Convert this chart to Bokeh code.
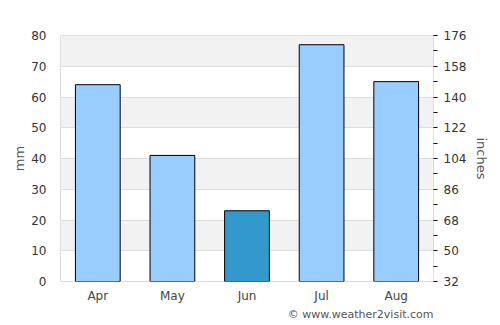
from bokeh.plotting import figure
from bokeh.models import Range1d, LinearAxis, FixedTicker, Title, ColumnDataSource
from bokeh.embed import file_html
from bokeh.resources import INLINE

months = ["Apr", "May", "Jun", "Jul", "Aug"]
rain_mm = [64, 41, 23, 77, 65]
bar_colors = ["#99ccff", "#99ccff", "#3399cc", "#99ccff", "#99ccff"]
right_ticks = [32, 50, 68, 86, 104, 122, 140, 158, 176]
left_ticks = [0, 10, 20, 30, 40, 50, 60, 70, 80]

src = ColumnDataSource(dict(m=months, v=rain_mm, c=bar_colors))

p = figure(width=500, height=325, x_range=months, y_range=Range1d(0, 80),
           output_backend="svg", toolbar_location=None,
           min_border_left=60, min_border_right=67, min_border_top=35, min_border_bottom=5)
p.background_fill_color = "white"
p.border_fill_color = "white"
p.outline_line_color = "#dddddd"

p.vbar(x="m", top="v", width=0.6, fill_color="c", line_color="black", line_width=1, source=src)

p.yaxis.ticker = FixedTicker(ticks=left_ticks)
p.yaxis.axis_label = "mm"
p.yaxis.axis_label_text_font = "DejaVu Sans"
p.yaxis.axis_label_text_font_size = "13px"
p.yaxis.axis_label_text_font_style = "normal"
p.yaxis.axis_label_text_color = "#555555"
p.yaxis.axis_label_standoff = 1
p.yaxis.axis_line_color = None
p.yaxis.major_tick_line_color = None
p.yaxis.minor_tick_line_color = None
p.yaxis.major_label_text_font = "DejaVu Sans"
p.yaxis.major_label_text_font_size = "12px"
p.yaxis.major_label_text_color = "#333333"
p.yaxis.major_label_standoff = 8

p.xaxis.axis_line_color = None
p.xaxis.major_tick_line_color = None
p.xaxis.major_label_text_font = "DejaVu Sans"
p.xaxis.major_label_text_font_size = "12px"
p.xaxis.major_label_text_color = "#444444"
p.xaxis.major_label_standoff = 1

p.xgrid.grid_line_color = None
p.ygrid.grid_line_color = "#dddddd"
p.ygrid.band_fill_color = "#f2f2f2"
p.ygrid.band_fill_alpha = 1.0

p.extra_y_ranges = {"inch": Range1d(32, 176)}
minor = [r + 9 for r in right_ticks[:-1]]
ax = LinearAxis(y_range_name="inch", ticker=FixedTicker(ticks=right_ticks, minor_ticks=minor))
ax.axis_label = "inches"
ax.axis_label_text_font = "DejaVu Sans"
ax.axis_label_text_font_size = "13px"
ax.axis_label_text_font_style = "normal"
ax.axis_label_text_color = "#555555"
ax.axis_label_standoff = 5
ax.axis_line_color = "#dddddd"
ax.major_tick_in = 0
ax.major_tick_out = 4
ax.minor_tick_in = 0
ax.minor_tick_out = 4
ax.major_tick_line_color = "black"
ax.minor_tick_line_color = "black"
ax.major_label_text_font = "DejaVu Sans"
ax.major_label_text_font_size = "12px"
ax.major_label_text_color = "#333333"
ax.major_label_standoff = 6
p.add_layout(ax, "right")

credit = Title(text="© www.weather2visit.com", align="right", text_font="DejaVu Sans",
               text_font_size="11px", text_font_style="normal", text_color="#555555",
               standoff=0)
p.add_layout(credit, "below")
spacer = Title(text=" ", text_font_size="3px", standoff=0)
p.add_layout(spacer, "below")

open("out.html", "w").write(file_html(p, INLINE))
